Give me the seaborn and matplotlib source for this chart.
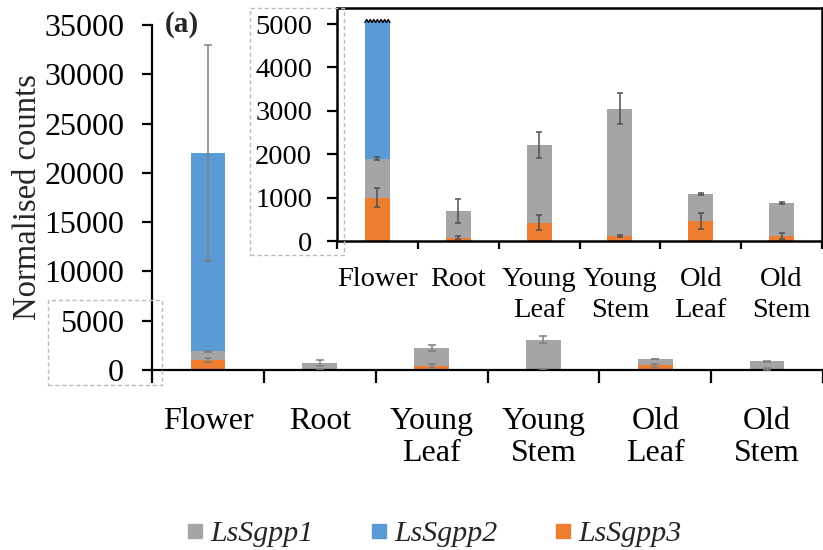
import numpy as np
import pandas as pd
import matplotlib
matplotlib.use("Agg")
import matplotlib.pyplot as plt
from matplotlib.lines import Line2D
from matplotlib.patches import Rectangle
import seaborn as sns

# ---- data -------------------------------------------------------------
tissues = ["Flower", "Root", "Young\nLeaf", "Young\nStem", "Old\nLeaf", "Old\nStem"]
genes = ["LsSgpp1", "LsSgpp2", "LsSgpp3"]

sgpp1 = [900, 610, 1790, 2935, 630, 767]        # grey segment
sgpp2 = [20140, 0, 0, 0, 0, 0]                  # blue segment
sgpp3 = [1000, 80, 420, 115, 460, 108]          # orange segment

sgpp1_err = [40, 275, 300, 350, 22, 22]
sgpp2_err = [10950, 0, 0, 0, 0, 0]
sgpp3_err = [220, 25, 170, 28, 185, 70]

inset_break = 5070   # value where the flower bar is cut in the zoomed panel

colors = {"LsSgpp1": "#A5A5A5", "LsSgpp2": "#5B9BD5", "LsSgpp3": "#ED7D31"}

# stacked order from the bottom: LsSgpp3, LsSgpp1, LsSgpp2
top3 = np.array(sgpp3, dtype=float)
top1 = top3 + np.array(sgpp1)
top2 = top1 + np.array(sgpp2)

df = pd.DataFrame({"tissue": tissues, "top3": top3, "top1": top1, "top2": top2})
df["top2_inset"] = np.minimum(df["top2"], inset_break)

# ---- style ------------------------------------------------------------
sns.set_style("ticks")
plt.rcParams["font.family"] = ["Liberation Serif", "DejaVu Serif"]
plt.rcParams["axes.linewidth"] = 1.6
plt.rcParams["xtick.major.width"] = 1.6
plt.rcParams["ytick.major.width"] = 1.6
plt.rcParams["xtick.minor.width"] = 1.6
plt.rcParams["axes.edgecolor"] = "black"
plt.rcParams["xtick.color"] = "black"
plt.rcParams["ytick.color"] = "black"

fig = plt.figure(figsize=(8.23, 5.5), dpi=100)
ax = fig.add_axes([0.1847, 0.3273, 0.8153, 0.6273])
axi = fig.add_axes([0.4095, 0.5618, 0.5893, 0.4237])

BAR_W = 0.31


def draw_stack(a, blue_col, err_color, lw, cap):
    for col, gene in ((blue_col, "LsSgpp2"), ("top1", "LsSgpp1"), ("top3", "LsSgpp3")):
        sns.barplot(data=df, x="tissue", y=col, order=tissues, color=colors[gene],
                    saturation=1, width=BAR_W, linewidth=0, errorbar=None, ax=a)
    x = np.arange(len(tissues))
    for tops, err in ((top3, sgpp3_err), (top1, sgpp1_err), (top2, sgpp2_err)):
        err = np.array(err, dtype=float)
        m = err > 0
        a.errorbar(x[m], tops[m], yerr=err[m], fmt="none", ecolor=err_color,
                   elinewidth=lw, capsize=cap, capthick=lw, zorder=5)


def style_axis(a, fs, pad, boundary_len, ypad, spacing):
    a.set_xlim(-0.5, len(tissues) - 0.5)
    a.set_xlabel("")
    a.set_ylabel("")
    a.tick_params(axis="x", which="major", length=0, pad=pad, labelsize=fs)
    a.set_xticks(np.arange(-0.5, len(tissues)), minor=True)
    a.tick_params(axis="x", which="minor", length=boundary_len, direction="out")
    a.tick_params(axis="y", length=7, direction="out", labelsize=fs, pad=ypad)
    for lab in a.get_xticklabels():
        lab.set_linespacing(spacing)


# main panel
draw_stack(ax, "top2", "#7F7F7F", 1.1, 3)
style_axis(ax, 23, 27, 9, 13, 1.1)
ax.set_ylim(0, 35000)
ax.set_yticks(np.arange(0, 35001, 5000))
ax.set_ylabel("Normalised counts", fontsize=23.5, labelpad=1)
sns.despine(ax=ax)

# zoomed panel
draw_stack(axi, "top2_inset", "#505050", 1.1, 2.5)
style_axis(axi, 20.5, 19, 6, 11, 1.3)
axi.set_ylim(0, 5370)
axi.set_yticks(np.arange(0, 5001, 1000))
axi.set_facecolor("white")
for s in axi.spines.values():
    s.set_visible(True)
    s.set_linewidth(1.8)

# zig-zag marking the cut flower bar
blue_bar = axi.patches[0]
x0, w = blue_bar.get_x(), blue_bar.get_width()
zx = np.linspace(x0, x0 + w, 15)
zy = inset_break + np.where(np.arange(15) % 2 == 0, -35, 35)
axi.plot(zx, zy, color="black", lw=1.0, zorder=6, clip_on=False)

# panel letter
fig.text(0.2005, 0.955, "(a)", fontsize=21, fontweight="bold", ha="left", va="center")

# dashed boxes linking the zoomed region
for (l, t, r, b) in ((48, 300, 162, 385), (250, 8, 344, 255)):
    fig.patches.append(Rectangle((l / 823, 1 - b / 550), (r - l) / 823, (b - t) / 550,
                                 transform=fig.transFigure, fill=False,
                                 edgecolor="#BBBBBB", linestyle=(0, (3, 2)), lw=1.0))

# legend
handles = [Line2D([], [], marker="s", linestyle="none", markersize=10,
                  markerfacecolor=colors[g], markeredgecolor=colors[g]) for g in genes]
fig.legend(handles, genes, loc="center", bbox_to_anchor=(0.527, 0.03), ncol=3,
           frameon=False, prop={"size": 21.5, "style": "italic"},
           handlelength=0.6, handletextpad=0.2, columnspacing=1.9)

fig.savefig("out.png", dpi=100)
